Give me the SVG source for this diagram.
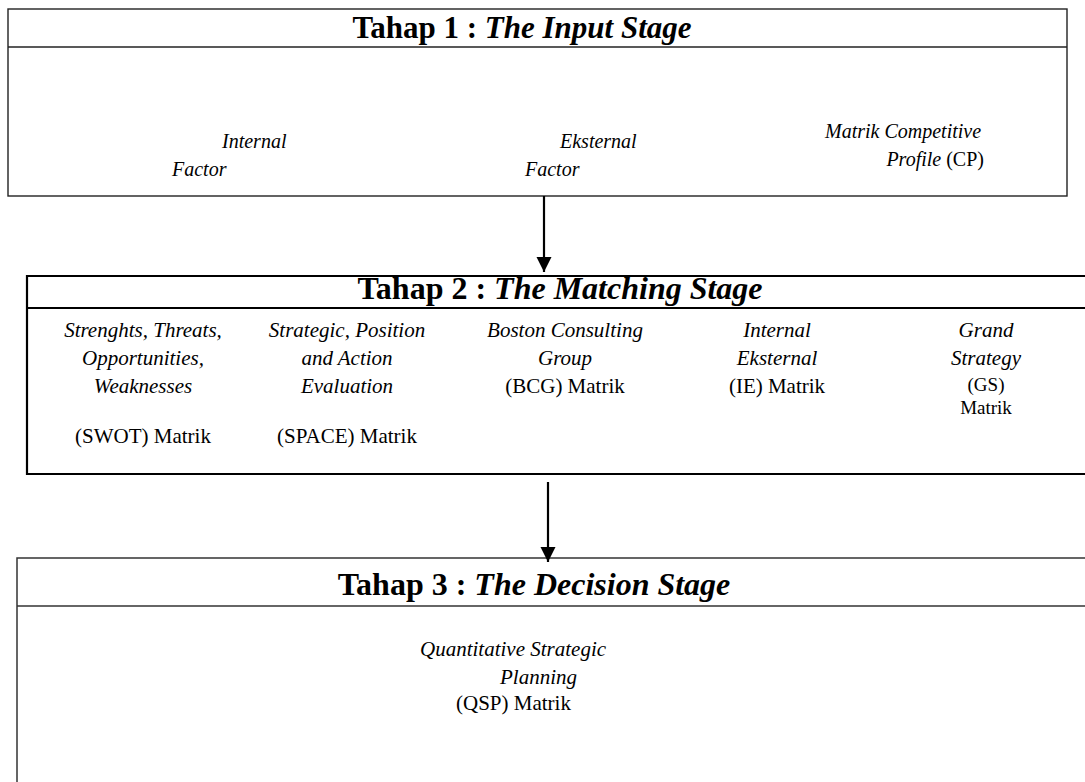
<svg xmlns="http://www.w3.org/2000/svg" width="1085" height="782" viewBox="0 0 1085 782">
<style>
text{font-family:"Liberation Serif","Times New Roman",serif;fill:#000}
.t{font-size:31px;font-weight:bold}
.t2{font-size:32px;font-weight:bold}
.i{font-style:italic}
.s{font-size:20px}
.m{font-size:21px}
.g{font-size:19px}
.d{font-size:21px}
.c{text-anchor:middle}
.box1{fill:none;stroke:#222;stroke-width:1.4}
.box2{fill:none;stroke:#000;stroke-width:2.2}
.box3{fill:none;stroke:#333;stroke-width:1.5}
.conn{stroke:#000;stroke-width:2.2;fill:none}
</style>
<defs>
<marker id="ah" viewBox="0 0 10 10" refX="10" refY="5" markerWidth="7" markerHeight="7" markerUnits="strokeWidth" orient="auto">
<path d="M0,0 L10,5 L0,10 Z" fill="#000"/>
</marker>
</defs>
<rect x="0" y="0" width="1085" height="782" fill="#fff"/>
<g id="stage1">
<rect class="box1" x="8" y="9" width="1059" height="187"/>
<line class="box1" x1="8" y1="47" x2="1067" y2="47"/>
<text class="t c" x="522" y="38">Tahap 1 : <tspan class="i">The Input Stage</tspan></text>
<text class="s i" x="222" y="148">Internal</text>
<text class="s i" x="172" y="176">Factor</text>
<text class="s i" x="560" y="148">Eksternal</text>
<text class="s i" x="525" y="176">Factor</text>
<text class="s i" x="825" y="138">Matrik Competitive</text>
<text class="s" x="984" y="166" text-anchor="end"><tspan class="i">Profile</tspan> (CP)</text>
</g>
<g id="stage2">
<path class="box2" d="M1090,276 L27,276 L27,474 L1090,474"/>
<line class="box2" x1="27" y1="308" x2="1090" y2="308"/>
<text class="t2 c" x="560" y="299">Tahap 2 : <tspan class="i">The Matching Stage</tspan></text>
<text class="m i c" x="143" y="337">Strenghts, Threats,</text>
<text class="m i c" x="143" y="365">Opportunities,</text>
<text class="m i c" x="143" y="393">Weaknesses</text>
<text class="m c" x="143" y="443">(SWOT) Matrik</text>
<text class="m i c" x="347" y="337">Strategic, Position</text>
<text class="m i c" x="347" y="365">and Action</text>
<text class="m i c" x="347" y="393">Evaluation</text>
<text class="m c" x="347" y="443">(SPACE) Matrik</text>
<text class="m i c" x="565" y="337">Boston Consulting</text>
<text class="m i c" x="565" y="365">Group</text>
<text class="m c" x="565" y="393">(BCG) Matrik</text>
<text class="m i c" x="777" y="337">Internal</text>
<text class="m i c" x="777" y="365">Eksternal</text>
<text class="m c" x="777" y="393">(IE) Matrik</text>
<text class="m i c" x="986" y="337">Grand</text>
<text class="m i c" x="986" y="365">Strategy</text>
<text class="g c" x="986" y="391">(GS)</text>
<text class="g c" x="986" y="414">Matrik</text>
</g>
<g id="stage3">
<path class="box3" d="M1090,558 L17,558 L17,790"/>
<line class="box3" x1="17" y1="606" x2="1090" y2="606"/>
<text class="t2 c" x="534" y="595">Tahap 3 : <tspan class="i">The Decision Stage</tspan></text>
<text class="d i" x="420" y="656">Quantitative Strategic</text>
<text class="d i" x="500" y="684">Planning</text>
<text class="d" x="456" y="710">(QSP) Matrik</text>
</g>
<g id="connectors">
<line class="conn" x1="544" y1="196" x2="544" y2="272" marker-end="url(#ah)"/>
<line class="conn" x1="548" y1="482" x2="548" y2="562" marker-end="url(#ah)"/>
</g>
</svg>
